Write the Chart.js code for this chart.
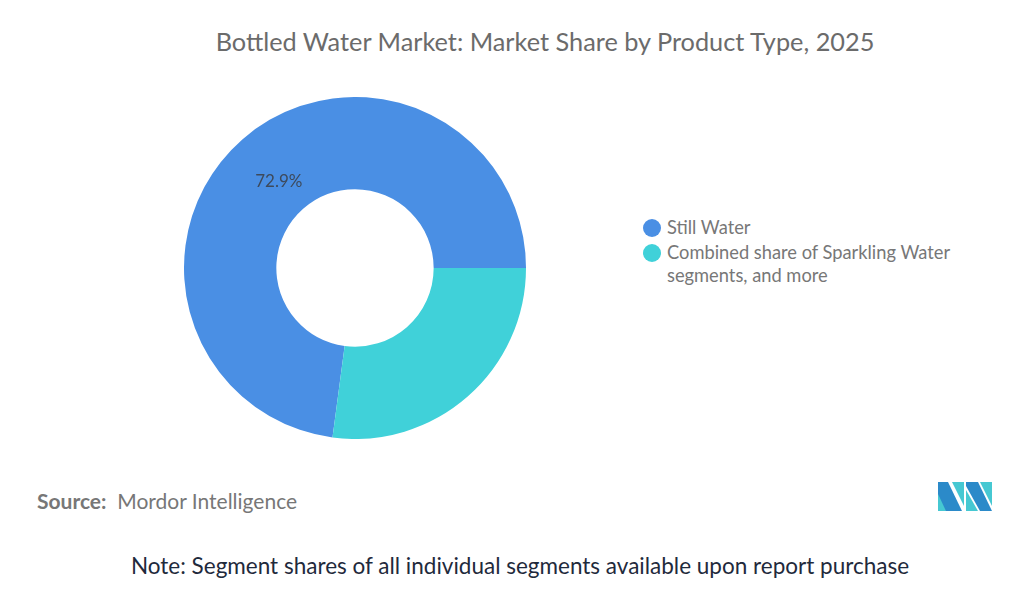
<!DOCTYPE html>
<html>
<head>
<meta charset="utf-8">
<script src="https://cdn.jsdelivr.net/npm/chart.js@4.4.1/dist/chart.umd.min.js"></script>
<style>
  body { margin: 0; background: #fff; font-family: Lato, "Noto Sans", sans-serif; }
  #page { position: relative; width: 1024px; height: 591px; overflow: hidden; }
  .abs { position: absolute; white-space: nowrap; }
  #title { left: 0; width: 1090px; top: 26px; text-align: center; font-size: 25.3px; color: #6b6b6b; }
  #chartBox { position: absolute; left: 184px; top: 97px; width: 342px; height: 342px; }
  .leg { position: absolute; left: 643px; font-size: 18.3px; color: #777; line-height: 23px; }
  .dot { position: absolute; left: 0; width: 18px; height: 18px; border-radius: 50%; }
  #source { left: 37px; top: 488px; font-size: 21px; color: #777; }
  #note { left: 0; width: 1040px; top: 552px; text-align: center; font-size: 22.5px; color: #1f2a3c; }
</style>
</head>
<body>
<div id="page">
  <div id="title" class="abs">Bottled Water Market: Market Share by Product Type, 2025</div>
  <div id="chartBox"><canvas id="myChart"></canvas></div>
  <div id="legend"></div>
  <div id="source" class="abs"><b style="font-weight:700">Source:</b>&nbsp; Mordor Intelligence</div>
  <svg class="abs" style="left:938px;top:482px" width="54" height="29" viewBox="0 0 54 29">
    <polygon points="0,0 10,0 24,29 0,29" fill="#2b8ac9"/>
    <polygon points="0,12 8,29 0,29" fill="#46c8d2"/>
    <polygon points="14,0 26,0 26,24" fill="#46c8d2"/>
    <polygon points="28,0 40,0 54,29 42,29 28,4" fill="#2b8ac9"/>
    <polygon points="42,0 54,0 54,24" fill="#46c8d2"/>
    <polygon points="28,8 40,29 28,29" fill="#46c8d2"/>
  </svg>
  <div id="note" class="abs">Note: Segment shares of all individual segments available upon report purchase</div>
</div>
<script>
var labels = ["Still Water", "Combined share of Sparkling Water segments, and more"];
var legendLines = [["Still Water"], ["Combined share of Sparkling Water", "segments, and more"]];
var shares = [72.9, 27.1];
var colors = ["#4a8fe4", "#40d1d9"];
var shownLabels = ["72.9%", ""];

// legend on the right
var legTop = [216, 241];
var legend = document.getElementById("legend");
for (var i = 0; i < labels.length; i++) {
  var d = document.createElement("div");
  d.className = "leg";
  d.style.top = legTop[i] + "px";
  d.innerHTML = '<span class="dot" style="top:3px;background:' + colors[i] + '"></span>' +
    '<div style="margin-left:24px">' + legendLines[i].join("<br>") + '</div>';
  legend.appendChild(d);
}

var total = shares[0] + shares[1];

var pctLabels = {
  id: "pctLabels",
  afterDatasetsDraw: function(chart) {
    var c = chart.ctx;
    var meta = chart.getDatasetMeta(0);
    c.save();
    c.font = "17px Lato, 'Noto Sans', sans-serif";
    c.fillStyle = "#3d4a5c";
    c.textAlign = "center";
    c.textBaseline = "middle";
    meta.data.forEach(function(arc, i) {
      if (!shownLabels[i]) return;
      var mid = (arc.startAngle + arc.endAngle) / 2;
      var r = arc.innerRadius + 0.4 * (arc.outerRadius - arc.innerRadius);
      c.fillText(shownLabels[i], arc.x + Math.cos(mid) * r, arc.y + Math.sin(mid) * r);
    });
    c.restore();
  }
};

var ctx = document.getElementById("myChart");
var myChart = new Chart(ctx, {
  type: 'doughnut',
  data: {
    labels: labels,
    datasets: [{
      data: shares,
      backgroundColor: colors,
      borderWidth: 0
    }]
  },
  options: {
    responsive: true,
    maintainAspectRatio: false,
    animation: false,
    cutout: '46%',
    rotation: 90 + 360 * shares[1] / total,
    plugins: {
      legend: { display: false },
      tooltip: { enabled: false }
    }
  },
  plugins: [pctLabels]
});
</script>
</body>
</html>
